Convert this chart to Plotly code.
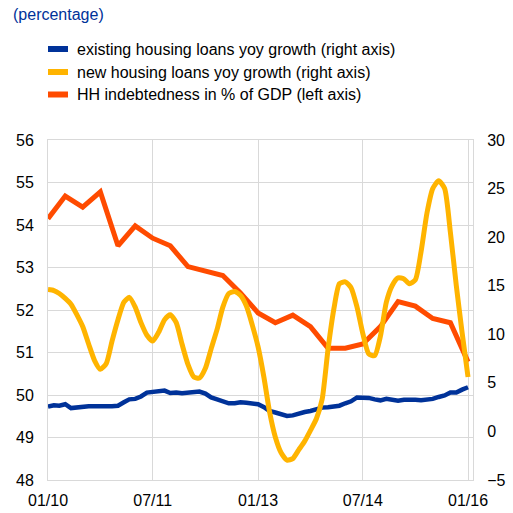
import plotly.graph_objects as go
import pandas as pd

# ---------------- data ----------------
months = pd.date_range("2010-01-01", "2016-01-01", freq="MS")
quarters = pd.date_range("2010-01-01", "2016-01-01", freq="3MS")

existing_growth = [
    2.55, 2.7, 2.65, 2.8, 2.4, 2.5, 2.55, 2.6, 2.6, 2.65, 2.6, 2.6,
    2.65, 3.0, 3.3, 3.35, 3.6, 4.0, 4.05, 4.1, 4.2, 3.95, 4.0, 3.93,
    4.0, 4.05, 4.1, 3.9, 3.5, 3.3, 3.1, 2.9, 2.9, 3.0, 2.95, 2.9,
    2.8, 2.5, 2.1, 1.95, 1.75, 1.6, 1.65, 1.85, 2.0, 2.1, 2.3, 2.45,
    2.5, 2.6, 2.65, 2.9, 3.1, 3.5, 3.5, 3.45, 3.3, 3.2, 3.35, 3.3,
    3.15, 3.25, 3.3, 3.25, 3.2, 3.25, 3.35, 3.55, 3.7, 4.0, 4.0, 4.3,
    4.55,
]

new_growth = [
    14.6, 14.5, 14.2, 13.7, 13.1, 12.0, 10.8, 9.0, 7.3, 6.4, 7.0, 9.3,
    11.5, 13.3, 13.8, 12.8, 11.2, 9.9, 9.3, 10.2, 11.5, 12.0, 11.2, 9.0,
    6.9, 5.6, 5.5, 6.5, 8.5, 10.5, 12.8, 14.2, 14.4, 14.0, 12.9, 11.0,
    8.7, 5.5, 2.1, -0.6, -2.2, -2.95, -2.8, -1.9, -1.0, 0.1, 1.3, 3.3,
    8.5, 12.7, 15.2, 15.4, 14.8, 12.8, 10.1, 8.0, 7.8, 9.8, 13.3, 15.0,
    15.8, 15.7, 15.2, 15.6, 18.5, 22.5, 25.0, 25.8, 25.0, 20.5, 15.0, 10.2,
    5.6,
]

hh_debt = [
    54.15, 54.68, 54.42, 54.78, 53.51, 53.98, 53.69, 53.51, 53.02, 52.92,
    52.81, 52.4, 51.93, 51.70, 51.88, 51.61, 51.1, 51.1, 51.2, 51.61,
    52.2, 52.09, 51.8, 51.70, 50.78,
]

series_names = [
    "existing housing loans yoy growth (right axis)",
    "new housing loans yoy growth (right axis)",
    "HH indebtedness in % of GDP (left axis)",
]
series_colors = ["#003299", "#FFB400", "#FF4B00"]

x_tickvals = ["2010-01-01", "2011-07-01", "2013-01-01", "2014-07-01", "2016-01-01"]
x_ticktext = ["01/10", "07/11", "01/13", "07/14", "01/16"]
left_ticks = [48, 49, 50, 51, 52, 53, 54, 55, 56]
right_ticks = [-5, 0, 5, 10, 15, 20, 25, 30]

FONT = "Liberation Sans, Arial, sans-serif"

fig = go.Figure()

fig.add_trace(go.Scatter(
    x=months, y=existing_growth, yaxis="y2", mode="lines",
    line=dict(color=series_colors[0], width=4.5),
    name=series_names[0], showlegend=False,
))
fig.add_trace(go.Scatter(
    x=months, y=new_growth, yaxis="y2", mode="lines",
    line=dict(color=series_colors[1], width=5, shape="spline", smoothing=0.6),
    name=series_names[1], showlegend=False,
))
fig.add_trace(go.Scatter(
    x=quarters, y=hh_debt, yaxis="y", mode="lines",
    line=dict(color=series_colors[2], width=5),
    name=series_names[2], showlegend=False,
))

# Legend drawn manually (paper coordinates of plot area: 48..473 px, 140..480 px)
def px_x(p):
    return (p - 48) / 425.0

def px_y(p):
    return (480 - p) / 340.0

shapes = []
annotations = []
legend_rows = [49, 72, 94.5]
for name, color, yc in zip(series_names, series_colors, legend_rows):
    shapes.append(dict(
        type="line", xref="paper", yref="paper",
        x0=px_x(48), x1=px_x(68), y0=px_y(yc), y1=px_y(yc),
        line=dict(color=color, width=6),
    ))
    annotations.append(dict(
        xref="paper", yref="paper", x=px_x(75), y=px_y(yc),
        xanchor="left", yanchor="middle", showarrow=False,
        text=name, font=dict(family=FONT, size=16, color="#000000"),
    ))

annotations.append(dict(
    xref="paper", yref="paper", x=px_x(11), y=px_y(15),
    xanchor="left", yanchor="middle", showarrow=False,
    text="(percentage)", font=dict(family=FONT, size=16, color="#003299"),
))

fig.update_layout(
    width=513, height=513,
    margin=dict(l=48, r=40, t=140, b=33, autoexpand=False),
    paper_bgcolor="white", plot_bgcolor="white",
    font=dict(family=FONT, size=16, color="#000000"),
    shapes=shapes,
    annotations=annotations,
    xaxis=dict(
        type="date",
        range=["2010-01-01", "2016-01-27"],
        tickvals=x_tickvals, ticktext=x_ticktext,
        showgrid=True, gridcolor="#D9D9D9", gridwidth=1,
        showline=True, linecolor="#D9D9D9", linewidth=1, mirror=True,
        ticks="", ticklabelstandoff=6, automargin=False,
        zeroline=False,
    ),
    yaxis=dict(
        range=[48, 56], tickvals=left_ticks,
        showgrid=True, gridcolor="#D9D9D9", gridwidth=1,
        showline=True, linecolor="#D9D9D9", linewidth=1,
        ticks="", ticklabelstandoff=10, zeroline=False, automargin=False,
    ),
    yaxis2=dict(
        range=[-5, 30], tickvals=right_ticks,
        overlaying="y", side="right",
        showgrid=False, showline=True, linecolor="#D9D9D9", linewidth=1,
        ticks="", ticklabelstandoff=10, zeroline=False, automargin=False,
    ),
)

fig.write_html(
    "out.html",
    config={"displayModeBar": False},
    post_script="document.body.style.margin='0';document.body.style.overflow='hidden';",
)
